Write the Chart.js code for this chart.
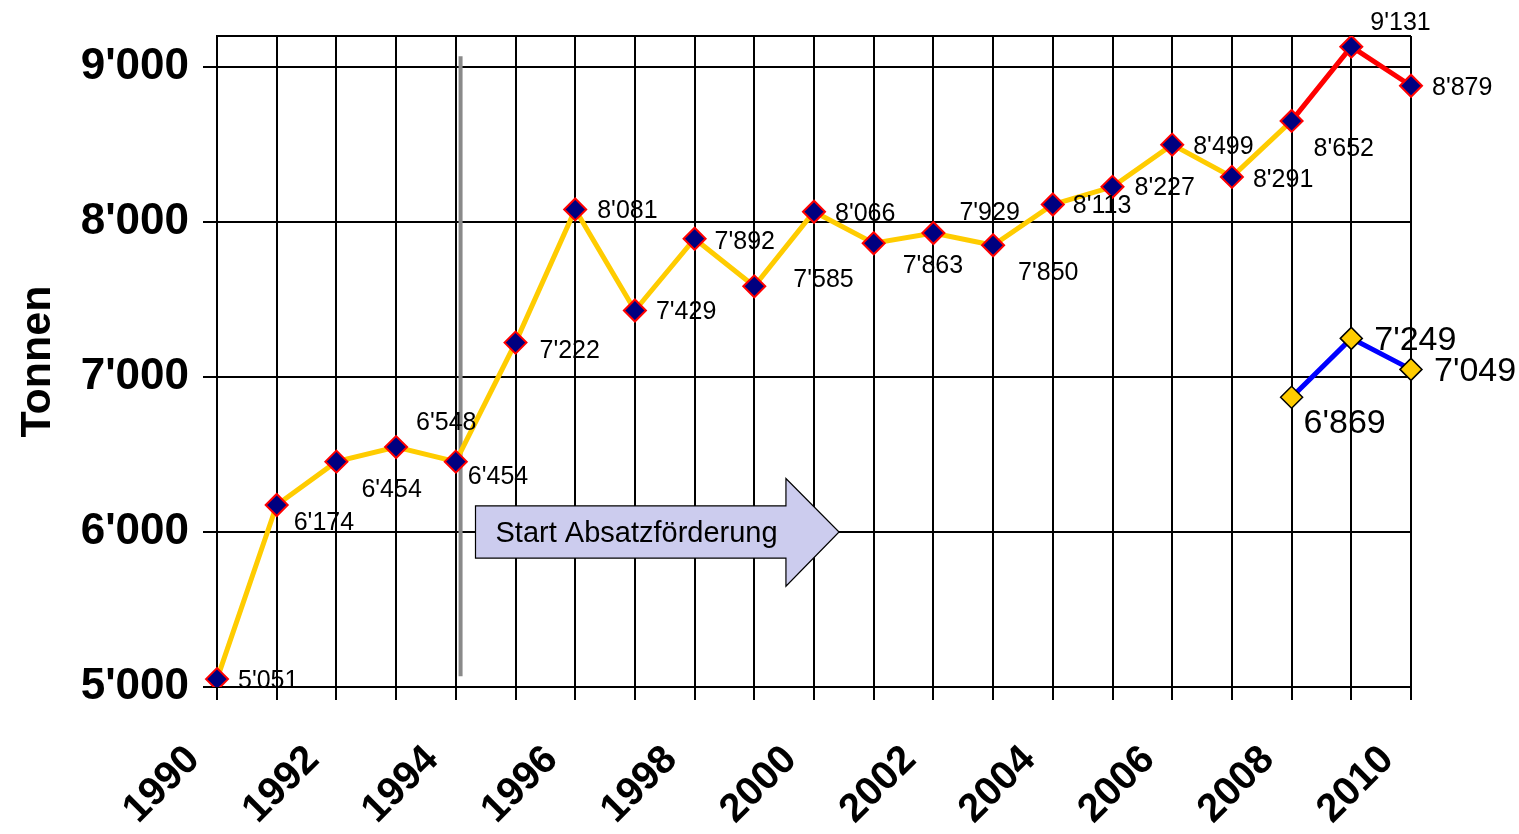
<!DOCTYPE html>
<html>
<head>
<meta charset="utf-8">
<script src="https://cdn.jsdelivr.net/npm/chart.js"></script>
<style>
  html, body { margin: 0; padding: 0; background: #fff; }
  #wrap { width: 1519px; height: 834px; }
</style>
</head>
<body>
<div id="wrap"><canvas id="absatzChart" width="1519" height="834"></canvas></div>
<script>
// Jahre
var jahre = ['1990','1991','1992','1993','1994','1995','1996','1997','1998','1999','2000',
             '2001','2002','2003','2004','2005','2006','2007','2008','2009','2010'];
// Absatz in Tonnen
var absatz = [5051, 6174, 6454, 6548, 6454, 7222, 8081, 7429, 7892, 7585, 8066,
              7863, 7929, 7850, 8113, 8227, 8499, 8291, 8652, 9131, 8879];
// zweite Reihe (nur 2008-2010)
var absatz2 = [null, null, null, null, null, null, null, null, null, null, null,
               null, null, null, null, null, null, null, 6869, 7249, 7049];
var yTicks = [5000, 6000, 7000, 8000, 9000];

// Lage der Beschriftungen (dx, dy) neben den Punkten
var labelOffsets = [[21,2],[17,18],[25,28],[20,-24],[12,15],[24,9],[22,2],[21,2],[20,3],[39,-6],[21,2],
                    [29,23],[26,-20],[25,28],[20,2],[22,1],[21,2],[21,3],[22,28],[19,-24],[21,2]];
var labelOffsets2 = {18: [12,26], 19: [23,2], 20: [23,2]};

function fmt(v) {
    var t = Math.floor(v / 1000);
    var r = String(v % 1000);
    while (r.length < 3) r = '0' + r;
    return t + "'" + r;
}

var deko = {
    id: 'deko',
    beforeDatasetsDraw: function(chart) {
        var ctx = chart.ctx;
        var x = chart.scales.x, y = chart.scales.y;
        var ca = chart.chartArea;
        ctx.save();
        // oberer Rand
        ctx.strokeStyle = '#000';
        ctx.lineWidth = 2;
        ctx.beginPath();
        ctx.moveTo(ca.left, y.getPixelForValue(9200));
        ctx.lineTo(ca.right, y.getPixelForValue(9200));
        ctx.stroke();
        // graue Linie
        var gx = x.getPixelForValue(4.08);
        ctx.strokeStyle = '#8a8a8a';
        ctx.lineWidth = 4;
        ctx.beginPath();
        ctx.moveTo(gx, y.getPixelForValue(9070));
        ctx.lineTo(gx, y.getPixelForValue(5070));
        ctx.stroke();
        // Pfeil
        var x0 = x.getPixelForValue(4.33), xh = x.getPixelForValue(9.53), xt = x.getPixelForValue(10.42);
        var bt = y.getPixelForValue(6168), bb = y.getPixelForValue(5832);
        var ht = y.getPixelForValue(6345), hb = y.getPixelForValue(5650), ty = y.getPixelForValue(6000);
        ctx.beginPath();
        ctx.moveTo(x0, bt);
        ctx.lineTo(xh, bt);
        ctx.lineTo(xh, ht);
        ctx.lineTo(xt, ty);
        ctx.lineTo(xh, hb);
        ctx.lineTo(xh, bb);
        ctx.lineTo(x0, bb);
        ctx.closePath();
        ctx.fillStyle = '#ccccee';
        ctx.fill();
        ctx.strokeStyle = '#000';
        ctx.lineWidth = 1.2;
        ctx.stroke();
        ctx.fillStyle = '#000';
        ctx.font = '29px Arial, "Liberation Sans", sans-serif';
        ctx.textBaseline = 'middle';
        ctx.textAlign = 'left';
        ctx.fillText('Start Absatzförderung', x0 + 20, ty + 2);
        ctx.restore();
    },
    afterDatasetsDraw: function(chart) {
        var ctx = chart.ctx;
        ctx.save();
        ctx.fillStyle = '#000';
        ctx.textBaseline = 'middle';
        ctx.textAlign = 'left';
        var m0 = chart.getDatasetMeta(0);
        ctx.font = '25px Arial, "Liberation Sans", sans-serif';
        m0.data.forEach(function(p, i) {
            var o = labelOffsets[i];
            ctx.fillText(fmt(absatz[i]), p.x + o[0], p.y + o[1]);
        });
        var m1 = chart.getDatasetMeta(1);
        ctx.font = '34px Arial, "Liberation Sans", sans-serif';
        m1.data.forEach(function(p, i) {
            if (absatz2[i] == null) return;
            var o = labelOffsets2[i];
            ctx.fillText(fmt(absatz2[i]), p.x + o[0], p.y + o[1]);
        });
        ctx.restore();
    }
};

var ctx = document.getElementById('absatzChart').getContext('2d');
var chart = new Chart(ctx, {
    type: 'line',
    data: {
        labels: jahre,
        datasets: [{
            label: 'Absatz',
            data: absatz,
            borderColor: '#ffcc00',
            borderWidth: 5,
            segment: {
                borderColor: function(c) { return c.p0DataIndex >= 18 ? '#ff0000' : '#ffcc00'; }
            },
            pointStyle: 'rectRot',
            pointRadius: 11,
            pointBackgroundColor: '#000080',
            pointBorderColor: '#ff0000',
            pointBorderWidth: 2,
            tension: 0
        }, {
            label: 'Absatz 2',
            data: absatz2,
            borderColor: '#0000ff',
            borderWidth: 5,
            pointStyle: 'rectRot',
            pointRadius: 11,
            pointBackgroundColor: '#ffcc00',
            pointBorderColor: '#000',
            pointBorderWidth: 1.5,
            spanGaps: false,
            tension: 0
        }]
    },
    options: {
        responsive: false,
        animation: false,
        layout: { padding: { top: 36, right: 108, left: 0, bottom: 0 } },
        plugins: {
            legend: { display: false },
            tooltip: { enabled: false }
        },
        scales: {
            x: {
                offset: false,
                afterFit: function(s) { s.height = 147; s.paddingLeft = 0; s.paddingRight = 0; },
                grid: { color: '#000', lineWidth: 2, tickLength: 13, tickColor: '#000' },
                border: { color: '#000', width: 2 },
                ticks: {
                    autoSkip: false,
                    maxRotation: 45,
                    minRotation: 45,
                    padding: 13,
                    color: '#000',
                    font: { family: 'Arial, "Liberation Sans", sans-serif', size: 40, weight: 'bold' },
                    callback: function(v, i) { return i % 2 === 0 ? jahre[i] + '   ' : ''; }
                }
            },
            y: {
                min: 5000,
                max: 9200,
                afterFit: function(s) { s.width = 217; s.paddingTop = 0; s.paddingBottom = 0; },
                afterBuildTicks: function(s) { s.ticks = yTicks.map(function(v) { return { value: v }; }); },
                grid: { color: '#000', lineWidth: 2, tickLength: 14, tickColor: '#000' },
                border: { color: '#000', width: 2 },
                title: {
                    display: true,
                    text: 'Tonnen',
                    color: '#000',
                    padding: { top: 12, bottom: 0 },
                    font: { family: 'Arial, "Liberation Sans", sans-serif', size: 43, weight: 'bold' }
                },
                ticks: {
                    padding: 14,
                    color: '#000',
                    font: { family: 'Arial, "Liberation Sans", sans-serif', size: 44, weight: 'bold' },
                    callback: function(v) { return fmt(v); }
                }
            }
        }
    },
    plugins: [deko]
});
</script>
</body>
</html>
